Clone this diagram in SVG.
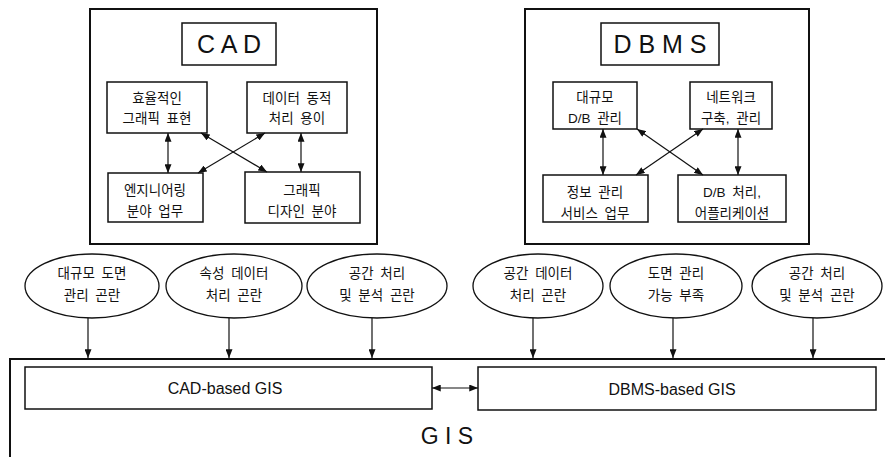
<svg xmlns="http://www.w3.org/2000/svg" width="885" height="457" viewBox="0 0 885 457">
<style>
.frame{fill:none;stroke:#111;stroke-width:2}
.box{fill:#fff;stroke:#111;stroke-width:1.5}
.ell{fill:#fff;stroke:#111;stroke-width:1.3}
.kr{font-family:"Liberation Sans","Noto Sans CJK KR",sans-serif;font-size:13.5px;fill:#111;text-anchor:middle;word-spacing:3px}
.title{font-family:"Liberation Sans",Arial,sans-serif;font-size:25px;fill:#111;text-anchor:middle}
.lat{font-family:"Liberation Sans",Arial,sans-serif;font-size:16px;fill:#111;text-anchor:middle}
.con{stroke:#111;stroke-width:1.2;fill:none}
</style>
<defs>
<marker id="ah" viewBox="0 0 10 8" refX="10" refY="4" markerWidth="9" markerHeight="7" markerUnits="userSpaceOnUse" orient="auto-start-reverse">
<path d="M0,0 L10,4 L0,8 z" fill="#111"/>
</marker>
</defs>
<rect width="885" height="457" fill="#fff"/>

<g id="cad">
<rect class="frame" x="90" y="9" width="287" height="235"/>
<rect class="box" x="182" y="23" width="94" height="42"/>
<text class="title" x="229" y="53">C A D</text>
</g>
<g id="cad-a"><rect class="box" x="107" y="82" width="100" height="51"/><text class="kr" x="157" y="103">효율적인</text><text class="kr" x="157" y="123">그래픽 표현</text></g>
<g id="cad-b"><rect class="box" x="247" y="82" width="100" height="51"/><text class="kr" x="297" y="103">데이터 동적</text><text class="kr" x="297" y="123">처리 용이</text></g>
<g id="cad-c"><rect class="box" x="108" y="173" width="95" height="49"/><text class="kr" x="155" y="195">엔지니어링</text><text class="kr" x="155" y="216">분야 업무</text></g>
<g id="cad-d"><rect class="box" x="245" y="172" width="115" height="51"/><text class="kr" x="302" y="195">그래픽</text><text class="kr" x="302" y="216">디자인 분야</text></g>

<g id="dbms">
<rect class="frame" x="525" y="9" width="284" height="235"/>
<rect class="box" x="601" y="23" width="118" height="42"/>
<text class="title" x="660" y="53">D B M S</text>
</g>
<g id="dbms-a"><rect class="box" x="553" y="82" width="84" height="47"/><text class="kr" x="595" y="102">대규모</text><text class="kr" x="595" y="123">D/B 관리</text></g>
<g id="dbms-b"><rect class="box" x="690" y="82" width="82" height="47"/><text class="kr" x="731" y="102">네트워크</text><text class="kr" x="731" y="123">구축, 관리</text></g>
<g id="dbms-c"><rect class="box" x="543" y="175" width="105" height="47"/><text class="kr" x="595" y="197">정보 관리</text><text class="kr" x="595" y="218">서비스 업무</text></g>
<g id="dbms-d"><rect class="box" x="678" y="175" width="108" height="47"/><text class="kr" x="732" y="197">D/B 처리,</text><text class="kr" x="732" y="218">어플리케이션</text></g>

<g id="e1"><ellipse class="ell" cx="92" cy="286" rx="67" ry="32"/><text class="kr" x="92" y="278">대규모 도면</text><text class="kr" x="92" y="300">관리 곤란</text></g>
<g id="e2"><ellipse class="ell" cx="234" cy="286" rx="68" ry="32"/><text class="kr" x="234" y="278">속성 데이터</text><text class="kr" x="234" y="300">처리 곤란</text></g>
<g id="e3"><ellipse class="ell" cx="377" cy="286" rx="70" ry="32"/><text class="kr" x="377" y="278">공간 처리</text><text class="kr" x="377" y="300">및 분석 곤란</text></g>
<g id="e4"><ellipse class="ell" cx="538" cy="286" rx="65" ry="32"/><text class="kr" x="538" y="278">공간 데이터</text><text class="kr" x="538" y="300">처리 곤란</text></g>
<g id="e5"><ellipse class="ell" cx="676" cy="286" rx="66" ry="32"/><text class="kr" x="676" y="278">도면 관리</text><text class="kr" x="676" y="300">가능 부족</text></g>
<g id="e6"><ellipse class="ell" cx="817" cy="286" rx="65" ry="32"/><text class="kr" x="817" y="278">공간 처리</text><text class="kr" x="817" y="300">및 분석 곤란</text></g>

<g id="gis">
<path class="frame" d="M10,457 V359 H885"/>
<text class="title" x="447" y="444" style="font-size:23px">G I S</text>
</g>
<g id="cad-gis"><rect class="box" x="25" y="367" width="407" height="42"/><text class="lat" x="225" y="394">CAD-based GIS</text></g>
<g id="dbms-gis"><rect class="box" x="478" y="367" width="398" height="43"/><text class="lat" x="672" y="395">DBMS-based GIS</text></g>

<g id="connectors">
<line class="con" x1="168" y1="133" x2="168" y2="173" marker-start="url(#ah)" marker-end="url(#ah)"/>
<line class="con" x1="301" y1="133" x2="301" y2="172" marker-start="url(#ah)" marker-end="url(#ah)"/>
<line class="con" x1="201" y1="133" x2="267" y2="172" marker-start="url(#ah)" marker-end="url(#ah)"/>
<line class="con" x1="265" y1="133" x2="198" y2="173" marker-start="url(#ah)" marker-end="url(#ah)"/>
<line class="con" x1="603" y1="129" x2="603" y2="175" marker-start="url(#ah)" marker-end="url(#ah)"/>
<line class="con" x1="738" y1="129" x2="738" y2="175" marker-start="url(#ah)" marker-end="url(#ah)"/>
<line class="con" x1="637" y1="129" x2="703" y2="175" marker-start="url(#ah)" marker-end="url(#ah)"/>
<line class="con" x1="703" y1="129" x2="636" y2="175" marker-start="url(#ah)" marker-end="url(#ah)"/>
<line class="con" x1="88" y1="318" x2="88" y2="358" marker-end="url(#ah)"/>
<line class="con" x1="229" y1="318" x2="229" y2="358" marker-end="url(#ah)"/>
<line class="con" x1="372" y1="318" x2="372" y2="358" marker-end="url(#ah)"/>
<line class="con" x1="533" y1="318" x2="533" y2="358" marker-end="url(#ah)"/>
<line class="con" x1="673" y1="318" x2="673" y2="358" marker-end="url(#ah)"/>
<line class="con" x1="813" y1="318" x2="813" y2="358" marker-end="url(#ah)"/>
<line class="con" x1="432" y1="388" x2="478" y2="388" marker-start="url(#ah)" marker-end="url(#ah)"/>
</g>
</svg>
